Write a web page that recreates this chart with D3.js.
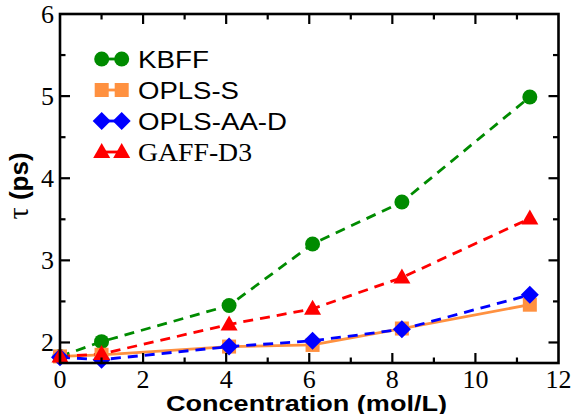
<!DOCTYPE html>
<html><head><meta charset="utf-8">
<script src="https://cdn.jsdelivr.net/npm/d3@7"></script>
<style>body{margin:0;background:#fff}svg{display:block}</style>
</head><body><div id="c"></div>
<script>
const concentration = [0, 1, 4.07, 6.08, 8.23, 11.31];
const kbff    = [1.83, 2.01, 2.45, 3.20, 3.71, 4.99];
const oplsS   = [1.83, 1.85, 1.95, 1.97, 2.17, 2.46];
const oplsAAD = [1.82, 1.79, 1.95, 2.02, 2.16, 2.58];
const gaffD3  = [1.83, 1.86, 2.22, 2.41, 2.79, 3.51];
const seriesNames = ["KBFF", "OPLS-S", "OPLS-AA-D", "GAFF-D3"];
const xTicks = [0, 2, 4, 6, 8, 10, 12];
const yTicks = [2, 3, 4, 5, 6];

const W = 574, H = 414;
const m = {l: 60, r: 15.5, t: 14, b: 51};
const svg = d3.select("#c").append("svg").attr("width", W).attr("height", H);
const x = d3.scaleLinear().domain([0, 12]).range([m.l, W - m.r]);
const y = d3.scaleLinear().domain([1.75, 6]).range([H - m.b, m.t]);

const series = [
  {name: seriesNames[0], vals: kbff, color: "#008b00", dash: "10,7", shape: "circle", w: 71},
  {name: seriesNames[1], vals: oplsS, color: "#ff9140", dash: null, shape: "square", w: 101},
  {name: seriesNames[2], vals: oplsAAD, color: "#0000ff", dash: "10,7", shape: "diamond", w: 149},
  {name: seriesNames[3], vals: gaffD3, color: "#ff0000", dash: "10,7", shape: "triangle", w: 114}
];

function marker(g, shape, cx, cy, color) {
  if (shape === "circle") g.append("circle").attr("cx", cx).attr("cy", cy).attr("r", 7.5).attr("fill", color);
  else if (shape === "square") g.append("rect").attr("x", cx - 7).attr("y", cy - 7).attr("width", 14).attr("height", 14).attr("fill", color);
  else if (shape === "diamond") g.append("path").attr("d", `M${cx},${cy-9}L${cx+9},${cy}L${cx},${cy+9}L${cx-9},${cy}Z`).attr("fill", color);
  else g.append("path").attr("d", `M${cx},${cy-9}L${cx+8.5},${cy+6}L${cx-8.5},${cy+6}Z`).attr("fill", color);
}

const plot = svg.append("g");
series.forEach(s => {
  const line = d3.line().x((d, i) => x(concentration[i])).y(d => y(d));
  plot.append("path").datum(s.vals).attr("d", line).attr("fill", "none")
    .attr("stroke", s.color).attr("stroke-width", 2.8)
    .attr("stroke-dasharray", s.dash);
});
series.forEach(s => {
  const g = plot.append("g");
  s.vals.forEach((v, i) => marker(g, s.shape, x(concentration[i]), y(v), s.color));
});

// axes with inward ticks on all sides
const axG = svg.append("g").attr("stroke", "#000");
const x0 = x(0), x1 = x(12), y0 = y(1.75), y1 = y(6);
for (let v = 1; v <= 11; v++) {
  const len = v % 2 === 0 ? 10 : 5.5;
  axG.append("line").attr("x1", x(v)).attr("x2", x(v)).attr("y1", y0).attr("y2", y0 - len).attr("stroke-width", 2.2);
  axG.append("line").attr("x1", x(v)).attr("x2", x(v)).attr("y1", y1).attr("y2", y1 + len).attr("stroke-width", 2.2);
}
for (let v = 2; v < 6; v += 0.5) {
  const len = Number.isInteger(v) ? 10 : 5.5;
  axG.append("line").attr("y1", y(v)).attr("y2", y(v)).attr("x1", x0).attr("x2", x0 + len).attr("stroke-width", 2.2);
  axG.append("line").attr("y1", y(v)).attr("y2", y(v)).attr("x1", x1).attr("x2", x1 - len).attr("stroke-width", 2.2);
}
svg.append("rect").attr("x", x0).attr("y", y1).attr("width", x1 - x0).attr("height", y0 - y1)
  .attr("fill", "none").attr("stroke", "#000").attr("stroke-width", 2.6);

const serif = "'Liberation Serif', 'Times New Roman', serif";
const sans = "'Liberation Sans', Arial, sans-serif";
svg.append("g").selectAll("text").data(xTicks).join("text")
  .attr("x", d => x(d)).attr("y", 388).attr("text-anchor", "middle")
  .attr("font-family", serif).attr("font-size", 26).text(d => d);
svg.append("g").selectAll("text").data(yTicks).join("text")
  .attr("x", 54).attr("y", d => y(d) + 9).attr("text-anchor", "end")
  .attr("font-family", serif).attr("font-size", 26).text(d => d);

svg.append("text").attr("x", 306.5).attr("y", 411).attr("text-anchor", "middle")
  .attr("font-family", sans).attr("font-weight", "bold").attr("font-size", 22)
  .attr("textLength", 281).attr("lengthAdjust", "spacingAndGlyphs")
  .text("Concentration (mol/L)");

const yt = svg.append("text").attr("transform", "translate(28,186) rotate(-90)").attr("text-anchor", "middle");
yt.append("tspan").attr("font-family", serif).attr("font-size", 30).text("τ ");
yt.append("tspan").attr("font-family", sans).attr("font-weight", "bold").attr("font-size", 26).text("(ps)");

// legend
const leg = svg.append("g");
series.forEach((s, i) => {
  const cy = 59 + i * 31;
  leg.append("line").attr("x1", 101.7).attr("x2", 121.7).attr("y1", cy).attr("y2", cy)
    .attr("stroke", s.color).attr("stroke-width", 2.8);
  marker(leg, s.shape, 101.7, cy, s.color);
  marker(leg, s.shape, 121.7, cy, s.color);
  leg.append("text").attr("x", 138).attr("y", cy + 8.5)
    .attr("font-family", s.name === "GAFF-D3" ? serif : sans).attr("font-size", 24.5)
    .attr("textLength", s.w).attr("lengthAdjust", "spacingAndGlyphs")
    .text(s.name);
});
</script></body></html>
